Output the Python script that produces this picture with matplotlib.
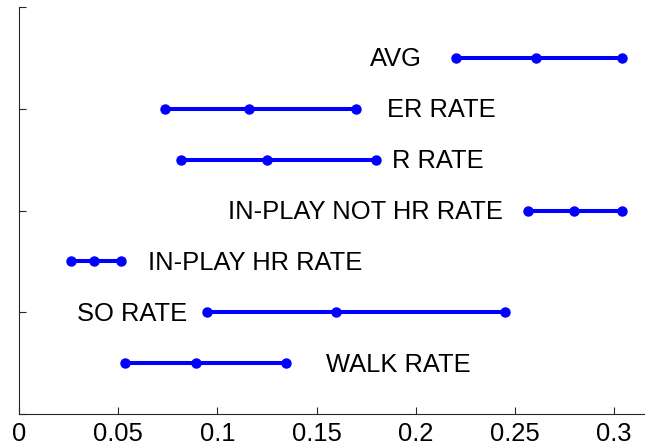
import matplotlib
matplotlib.use('Agg')
import matplotlib.pyplot as plt

plt.rcParams['font.family'] = ['Liberation Sans', 'DejaVu Sans']

# rows from top to bottom
labels = ['AVG', 'ER RATE', 'R RATE', 'IN-PLAY NOT HR RATE',
          'IN-PLAY HR RATE', 'SO RATE', 'WALK RATE']
low = [0.220, 0.0736, 0.0817, 0.2567, 0.0262, 0.0948, 0.0536]
mid = [0.2606, 0.1159, 0.1250, 0.2797, 0.0376, 0.1600, 0.0890]
high = [0.3039, 0.1699, 0.1800, 0.3039, 0.0514, 0.2450, 0.1346]
# left edge of each label, in data units
label_x = [0.1769, 0.1853, 0.1879, 0.1053, 0.0650, 0.0291, 0.1546]
rows = [7, 6, 5, 4, 3, 2, 1]

fig = plt.figure(figsize=(6.45, 4.47), dpi=100)
ax = fig.add_axes([19 / 645, 33 / 447, 626 / 645, 407 / 447])

for y, lo, m, hi, name, lx in zip(rows, low, mid, high, labels, label_x):
    ax.plot([lo, m, hi], [y, y, y], color='#0000ff', lw=2.9,
            marker='o', markersize=6.5, solid_capstyle='butt')
    ax.text(lx, y + 0.02, name, fontsize=18.4, ha='left', va='center_baseline',
            color='black')

ax.set_xlim(0, 0.3155)
ax.set_ylim(0, 8)
ax.set_xticks([0, 0.05, 0.1, 0.15, 0.2, 0.25, 0.3])
ax.set_xticklabels(['0', '0.05', '0.1', '0.15', '0.2', '0.25', '0.3'])
ax.set_yticks([0, 2, 4, 6, 8])
ax.set_yticklabels([])
ax.tick_params(direction='in', length=5, width=0.8, colors='#262626',
               labelsize=18.4, labelcolor='black', pad=6)
for side in ['top', 'right']:
    ax.spines[side].set_visible(False)
for side in ['left', 'bottom']:
    ax.spines[side].set_color('#262626')
    ax.spines[side].set_linewidth(0.8)

plt.savefig('out.png', dpi=100)
plt.close()
